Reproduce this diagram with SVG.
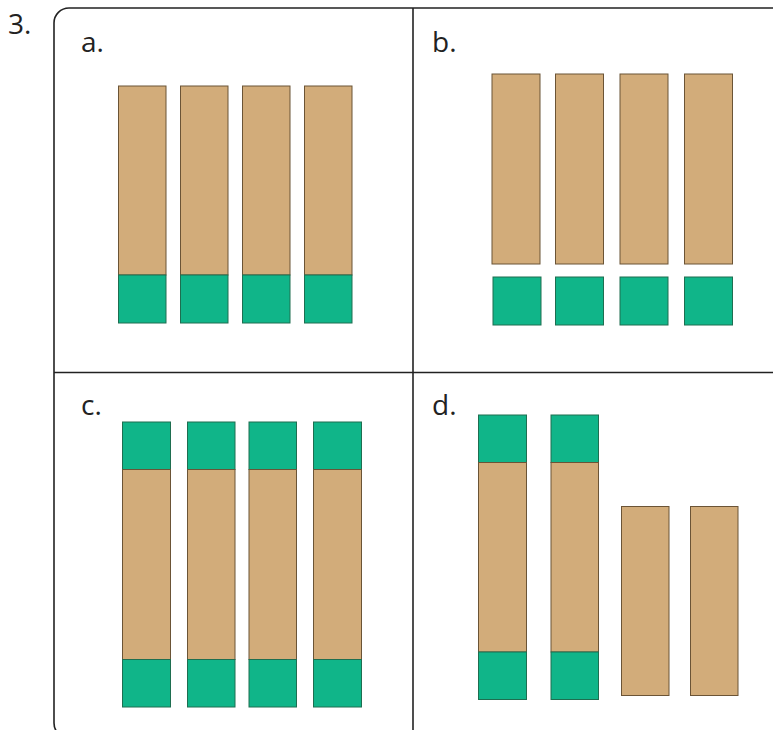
<svg xmlns="http://www.w3.org/2000/svg" width="773" height="730" viewBox="0 0 773 730">
<style>
.lbl{font-family:"Open Sans","Noto Sans","Liberation Sans",sans-serif;font-size:28px;fill:#222}
.tan{fill:#D2AC7A;stroke:#6B5436;stroke-width:1}
.grn{fill:#10B589;stroke:#1E6E50;stroke-width:1}
.frame{fill:none;stroke:#222;stroke-width:1.6}
</style>
<rect width="773" height="730" fill="#fff"/>
<text class="lbl" x="8" y="34">3.</text>
<g id="frame">
<rect class="frame" x="54" y="8" width="740" height="730" rx="15"/>
<line class="frame" x1="413" y1="8" x2="413" y2="730"/>
<line class="frame" x1="54" y1="372.5" x2="773" y2="372.5"/>
</g>
<g id="panel-a">
<text class="lbl" x="81" y="52">a.</text>
<rect class="tan" x="118.5" y="86" width="47.5" height="189"/>
<rect class="grn" x="118.5" y="275" width="47.5" height="48"/>
<rect class="tan" x="180.5" y="86" width="47.5" height="189"/>
<rect class="grn" x="180.5" y="275" width="47.5" height="48"/>
<rect class="tan" x="242.5" y="86" width="47.5" height="189"/>
<rect class="grn" x="242.5" y="275" width="47.5" height="48"/>
<rect class="tan" x="304.5" y="86" width="47.5" height="189"/>
<rect class="grn" x="304.5" y="275" width="47.5" height="48"/>
</g>
<g id="panel-b">
<text class="lbl" x="432" y="52">b.</text>
<rect class="tan" x="492" y="74" width="48" height="190"/>
<rect class="grn" x="493" y="277" width="48" height="48"/>
<rect class="tan" x="555.5" y="74" width="48" height="190"/>
<rect class="grn" x="555.5" y="277" width="48" height="48"/>
<rect class="tan" x="620" y="74" width="48" height="190"/>
<rect class="grn" x="620" y="277" width="48" height="48"/>
<rect class="tan" x="684.5" y="74" width="48" height="190"/>
<rect class="grn" x="684.5" y="277" width="48" height="48"/>
</g>
<g id="panel-c">
<text class="lbl" x="81" y="415">c.</text>
<rect class="grn" x="122.5" y="422" width="48" height="47.5"/>
<rect class="tan" x="122.5" y="469.5" width="48" height="190"/>
<rect class="grn" x="122.5" y="659.5" width="48" height="47.5"/>
<rect class="grn" x="187.5" y="422" width="47.5" height="47.5"/>
<rect class="tan" x="187.5" y="469.5" width="47.5" height="190"/>
<rect class="grn" x="187.5" y="659.5" width="47.5" height="47.5"/>
<rect class="grn" x="249" y="422" width="47.5" height="47.5"/>
<rect class="tan" x="249" y="469.5" width="47.5" height="190"/>
<rect class="grn" x="249" y="659.5" width="47.5" height="47.5"/>
<rect class="grn" x="313.5" y="422" width="48" height="47.5"/>
<rect class="tan" x="313.5" y="469.5" width="48" height="190"/>
<rect class="grn" x="313.5" y="659.5" width="48" height="47.5"/>
</g>
<g id="panel-d">
<text class="lbl" x="432" y="415">d.</text>
<rect class="grn" x="478.5" y="415" width="48" height="47.5"/>
<rect class="tan" x="478.5" y="462.5" width="48" height="189.5"/>
<rect class="grn" x="478.5" y="652" width="48" height="47.5"/>
<rect class="grn" x="551" y="415" width="47.5" height="47.5"/>
<rect class="tan" x="551" y="462.5" width="47.5" height="189.5"/>
<rect class="grn" x="551" y="652" width="47.5" height="47.5"/>
<rect class="tan" x="621.5" y="506.5" width="47.5" height="189"/>
<rect class="tan" x="690.5" y="506.5" width="47.5" height="189"/>
</g>
</svg>
